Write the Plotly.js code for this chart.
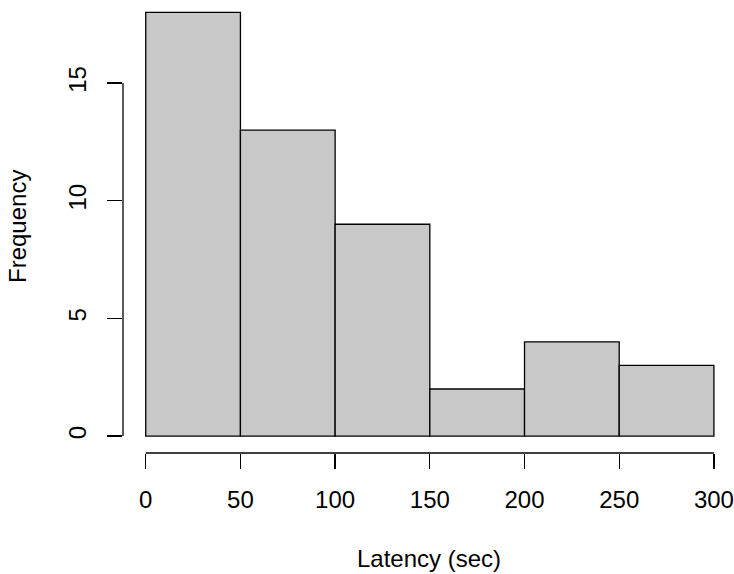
<!DOCTYPE html>
<html>
<head>
<meta charset="utf-8">
<script src="https://cdn.plot.ly/plotly-3.0.1.min.js"></script>
<style>html,body{margin:0;padding:0;background:#fff;}#chart{width:734px;height:574px;}</style>
</head>
<body>
<div id="chart"></div>
<script>
var binStarts = [0, 50, 100, 150, 200, 250];
var binWidth = 50;
var counts = [18, 13, 9, 2, 4, 3];
var xTicks = [0, 50, 100, 150, 200, 250, 300];
var yTicks = [0, 5, 10, 15];
var xLabel = "Latency (sec)";
var yLabel = "Frequency";

var mids = binStarts.map(function (s) { return s + binWidth / 2; });
var font = "Liberation Sans, Arial, Helvetica, sans-serif";
var fs = 24;

var trace = {
  type: "bar",
  x: mids,
  y: counts,
  width: binStarts.map(function () { return binWidth; }),
  marker: { color: "#c8c8c8", line: { color: "#000", width: 1.3 } },
  hoverinfo: "x+y"
};

var layout = {
  width: 734, height: 574,
  margin: { l: 123, r: 0, t: 0, b: 120.5, pad: 0 },
  paper_bgcolor: "#fff", plot_bgcolor: "#fff",
  showlegend: false,
  font: { family: font, size: fs, color: "#000" },
  bargap: 0,
  xaxis: {
    range: [-12, 310.6], showgrid: false, zeroline: false, showline: false,
    tickmode: "array", tickvals: xTicks, ticktext: xTicks.map(String),
    ticks: "outside", ticklen: 15, tickwidth: 1.3, tickcolor: "#000",
    ticklabelstandoff: 10,
    tickfont: { family: font, size: fs, color: "#000" }
  },
  yaxis: {
    range: [-0.72, 18.53], showgrid: false, zeroline: false, showline: false,
    tickmode: "array", tickvals: yTicks, ticktext: yTicks.map(String),
    ticks: "outside", ticklen: 15, tickwidth: 1.3, tickcolor: "#000",
    tickangle: -90, ticklabelstandoff: 11,
    tickfont: { family: font, size: fs, color: "#000" }
  },
  shapes: [
    { type: "line", xref: "x", yref: "paper", x0: xTicks[0], x1: xTicks[xTicks.length - 1], y0: 0, y1: 0,
      line: { color: "#000", width: 1.3 } },
    { type: "line", xref: "paper", yref: "y", x0: 0, x1: 0, y0: yTicks[0], y1: yTicks[yTicks.length - 1],
      line: { color: "#000", width: 1.3 } }
  ],
  annotations: [
    { text: xLabel, xref: "paper", yref: "paper", x: 0.5, y: 0, yshift: -105.5, xanchor: "center", yanchor: "middle",
      showarrow: false, font: { family: font, size: fs, color: "#000" } },
    { text: yLabel, xref: "paper", yref: "paper", x: 0, y: 0.5, xshift: -105.5, xanchor: "center", yanchor: "middle",
      textangle: -90, showarrow: false, font: { family: font, size: fs, color: "#000" } }
  ]
};

Plotly.newPlot("chart", [trace], layout, { displayModeBar: false, staticPlot: true });
</script>
</body>
</html>
